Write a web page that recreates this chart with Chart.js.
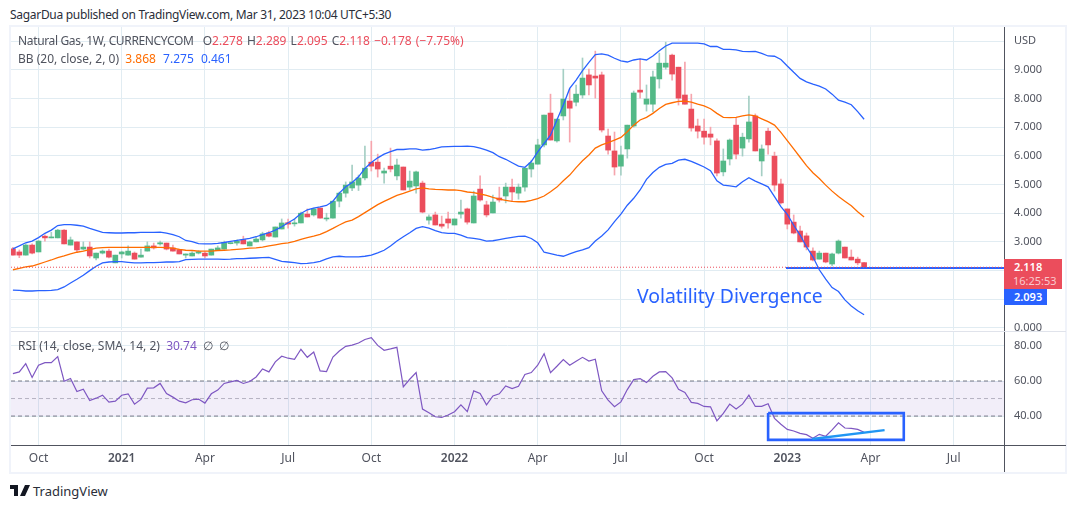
<!DOCTYPE html>
<html>
<head>
<meta charset="utf-8">
<title>Natural Gas</title>
<script src="https://cdn.jsdelivr.net/npm/chart.js@4"></script>
<style>
  body { margin: 0; background: #fff; font-family: "Noto Sans", sans-serif; color: #50535e; }
  #page { position: relative; width: 1076px; height: 508px; overflow: hidden; }
  #page > * { position: absolute; white-space: nowrap; }
  canvas { display: block; }
  .up { color: #eb4d5c; margin-right: 1px; }
  .legend { font-size: 12px; line-height: 18px; left: 18px; }
  .legend span.bb { margin-right: 4px; }
  .line { background: #50535e; }
  .tag { color: #fff; font-size: 11px; font-weight: 600; padding-left: 10px; box-sizing: border-box; }
</style>
</head>
<body>
<div id="page">
  <div style="left:10px;top:6px;font-size:12px;letter-spacing:-0.3px;color:#2a2e39">SagarDua published on TradingView.com, Mar 31, 2023 10:04 UTC+5:30</div>
  <div style="left:9px;top:25px;width:1054px;height:445px;border:2px solid #f0f3fa"></div>
  <canvas id="priceChart" width="1076" height="331" style="left:0;top:0"></canvas>
  <div style="left:11px;top:331px;width:1055px;height:1px;background:#e0e3eb"></div>
  <canvas id="rsiChart" width="1076" height="141" style="left:0;top:332px"></canvas>
  <div class="line" style="left:1004px;top:445px;width:1px;height:27px"></div>
  <div class="line" style="left:1004px;top:445px;width:62px;height:1px"></div>

  <div class="legend" style="top:32px"><span style="letter-spacing:-0.35px;margin-right:6px">Natural Gas, 1W, CURRENCYCOM</span> O<span class="up">2.278</span> H<span class="up">2.289</span> L<span class="up">2.095</span> C<span class="up">2.118</span> <span class="up">−0.178</span> <span class="up">(−7.75%)</span></div>
  <div class="legend" style="top:50px">BB (20, close, 2, 0)&nbsp; <span class="bb" style="color:#ff6d00">3.868</span> <span class="bb" style="color:#2962ff">7.275</span> <span class="bb" style="color:#2962ff">0.461</span></div>
  <div class="legend" style="top:337px">RSI (14, close, SMA, 14, 2)&nbsp; <span style="color:#7e57c2">30.74</span>&nbsp; ∅&nbsp; ∅</div>

  <div style="left:637px;top:283px;font-size:19.4px;line-height:26px;color:#2962ff">Volatility Divergence</div>

  <div class="tag" style="left:1004px;top:259px;width:58px;height:30px;background:#eb4d5c;line-height:14px;padding-top:1px">2.118<br><span style="color:#f9c9ce;font-weight:400;margin-left:-1px">16:25:53</span></div>
  <div class="tag" style="left:1004px;top:289px;width:43px;height:16px;background:#2962ff;line-height:16px">2.093</div>

  <svg style="left:10px;top:485px" width="20" height="12" viewBox="0 0 20 12">
    <path d="M0 0h8v11H4V4H0z M9.5 0a2 2 0 1 1 0.01 0z M15 0h5l-5 11h-5z" fill="#131722"/>
  </svg>
  <div style="left:33px;top:482px;font-size:13px;line-height:18px;color:#2a2e39">TradingView</div>
</div>

<script>
const opens = [2.76,2.65,2.54,2.89,2.65,3.20,3.14,3.14,3.41,2.89,
  3.00,2.75,2.82,2.44,2.61,2.68,2.27,2.58,2.54,2.61,
  2.47,2.68,2.86,2.93,2.96,2.79,2.73,2.54,2.51,2.61,
  2.61,2.54,2.72,2.75,2.94,2.96,3.08,2.86,3.00,3.07,
  3.31,3.17,3.45,3.67,3.63,3.66,3.97,3.94,4.18,3.80,
  3.83,4.42,4.70,4.88,4.98,5.23,5.78,5.78,5.40,5.64,
  5.30,5.61,4.91,4.95,5.05,3.76,3.94,3.62,3.80,3.59,
  3.97,4.15,3.66,4.84,4.29,4.01,4.53,4.60,4.91,4.70,
  4.91,5.54,5.71,6.38,7.49,6.52,7.39,7.91,7.87,8.12,
  8.82,8.78,8.82,6.69,6.17,5.64,6.24,7.04,8.29,7.80,
  7.80,8.68,9.09,9.51,9.09,8.12,7.63,7.04,6.86,6.76,
  6.52,5.44,5.89,7.07,6.27,6.59,7.39,5.82,6.86,5.99,
  5.02,4.15,3.69,3.38,3.21,2.68,2.40,2.61,2.23,2.61,2.82,2.47,2.40,2.278];
const highs = [2.81,2.72,2.93,2.93,3.05,3.25,3.34,3.44,3.43,3.17,
  3.00,3.00,3.00,2.61,2.72,2.75,2.54,2.68,2.86,2.65,
  2.75,3.00,2.96,3.03,2.96,2.89,2.75,2.58,2.65,2.70,
  2.65,2.75,2.86,3.03,2.96,3.07,3.20,3.03,3.17,3.34,
  3.38,3.52,3.80,3.80,3.80,4.04,4.15,4.18,4.18,4.00,
  4.42,4.74,5.09,5.68,5.33,6.34,6.51,6.06,5.57,6.27,
  5.89,5.61,5.47,5.47,5.12,3.94,4.04,3.90,4.04,3.80,
  4.46,4.18,4.77,5.30,4.42,4.63,4.91,5.05,5.19,5.02,
  5.57,5.85,6.58,7.42,8.15,7.28,9.02,8.33,8.47,9.41,
  9.02,9.65,8.92,6.93,6.83,6.34,7.07,8.26,9.37,8.47,
  8.95,9.58,9.96,9.55,9.09,9.27,8.15,7.28,7.28,7.00,
  6.59,6.24,6.59,7.32,6.79,8.08,7.46,6.38,6.97,6.13,
  5.19,4.15,3.94,3.55,3.31,2.79,2.68,2.61,2.61,3.07,2.82,2.72,2.47,2.289];
const lows = [2.54,2.45,2.54,2.58,2.65,3.03,3.14,3.14,2.93,2.89,
  2.65,2.72,2.44,2.37,2.58,2.44,2.27,2.44,2.54,2.40,
  2.47,2.68,2.75,2.89,2.72,2.68,2.58,2.44,2.51,2.58,
  2.44,2.54,2.72,2.75,2.93,2.89,2.93,2.86,3.00,3.03,
  3.17,3.17,3.45,3.48,3.55,3.66,3.87,3.90,3.83,3.73,
  3.83,4.22,4.56,4.79,4.79,5.16,5.47,5.26,5.05,5.44,
  5.16,4.81,4.81,4.70,4.01,3.62,3.59,3.48,3.48,3.59,
  3.83,3.62,3.66,4.42,3.87,4.01,4.39,4.36,4.42,4.49,
  4.77,5.26,5.71,6.31,6.55,6.48,7.25,6.48,7.74,8.01,
  8.12,8.01,6.83,6.06,5.33,5.33,5.92,7.00,8.01,7.56,
  7.53,8.36,9.02,8.64,7.77,7.80,6.86,6.62,6.41,6.38,
  5.30,5.30,5.68,5.89,5.99,6.48,6.17,5.30,6.06,4.77,
  4.32,3.45,3.28,3.00,2.72,2.34,2.40,2.27,2.16,2.58,2.44,2.37,2.20,2.095];
const closes = [2.54,2.54,2.89,2.61,3.03,3.14,3.16,3.41,2.93,3.07,
  2.72,2.82,2.51,2.61,2.68,2.47,2.54,2.65,2.68,2.40,
  2.54,2.86,2.79,2.97,2.75,2.68,2.58,2.58,2.61,2.66,
  2.51,2.75,2.79,2.98,2.96,3.03,2.93,3.00,3.10,3.28,
  3.20,3.52,3.66,3.62,3.66,4.00,3.87,4.15,3.83,3.83,
  4.42,4.70,4.98,5.09,5.23,5.57,5.64,5.54,5.47,5.54,
  5.68,4.81,5.12,5.44,4.04,3.87,3.59,3.55,3.66,3.80,
  4.04,3.69,4.60,4.46,3.94,4.39,4.46,4.91,4.74,4.91,
  5.57,5.75,6.38,7.42,6.55,7.28,7.98,7.66,8.15,8.71,
  8.47,8.71,6.90,6.20,5.61,6.03,7.07,8.19,8.22,7.98,
  8.75,9.23,9.23,8.85,8.01,7.80,6.97,6.86,6.65,6.65,
  5.40,5.82,6.55,6.06,6.65,7.18,6.17,6.24,6.38,4.98,
  4.36,3.62,3.31,3.00,2.82,2.37,2.61,2.30,2.58,3.03,2.44,2.37,2.27,2.118];

const bbUpper = [2.76,2.86,2.97,3.03,3.15,3.30,3.41,3.57,3.60,3.60,
  3.58,3.55,3.47,3.40,3.33,3.32,3.31,3.31,3.32,3.32,
  3.33,3.33,3.33,3.34,3.31,3.25,3.18,3.05,3.01,2.94,
  2.93,2.93,2.95,2.98,3.02,3.05,3.09,3.12,3.18,3.25,
  3.32,3.41,3.53,3.67,3.80,3.99,4.12,4.18,4.22,4.27,
  4.42,4.70,4.92,5.07,5.27,5.56,5.77,5.93,6.06,6.15,
  6.22,6.22,6.24,6.24,6.20,6.22,6.26,6.31,6.32,6.33,
  6.33,6.34,6.32,6.27,6.20,6.11,5.97,5.88,5.76,5.64,
  5.60,5.80,6.14,6.43,6.72,7.25,7.77,8.35,8.64,8.97,
  9.26,9.53,9.55,9.51,9.40,9.31,9.27,9.34,9.38,9.34,
  9.48,9.66,9.83,9.93,9.93,9.93,9.93,9.93,9.90,9.81,
  9.81,9.71,9.71,9.69,9.64,9.63,9.64,9.57,9.48,9.47,
  9.36,9.13,8.91,8.70,8.58,8.50,8.43,8.33,8.15,7.94,7.87,7.78,7.54,7.275];
const bbBasis = [2.03,2.08,2.13,2.16,2.23,2.30,2.37,2.45,2.51,2.58,
  2.64,2.68,2.73,2.78,2.80,2.81,2.81,2.81,2.81,2.81,
  2.81,2.81,2.81,2.81,2.80,2.78,2.74,2.71,2.70,2.68,
  2.68,2.68,2.70,2.71,2.72,2.74,2.76,2.78,2.79,2.82,
  2.86,2.90,2.94,2.97,3.02,3.09,3.15,3.20,3.26,3.36,
  3.47,3.59,3.70,3.76,3.88,4.02,4.16,4.30,4.41,4.52,
  4.62,4.69,4.77,4.85,4.88,4.85,4.83,4.82,4.81,4.81,
  4.79,4.74,4.72,4.67,4.62,4.55,4.49,4.45,4.41,4.40,
  4.40,4.45,4.51,4.60,4.75,4.91,5.13,5.33,5.59,5.83,
  6.03,6.27,6.38,6.46,6.55,6.64,6.84,7.07,7.25,7.34,
  7.48,7.65,7.79,7.85,7.90,7.91,7.87,7.80,7.74,7.64,
  7.48,7.34,7.33,7.34,7.39,7.43,7.39,7.29,7.19,7.07,
  6.82,6.53,6.24,5.95,5.66,5.41,5.21,4.98,4.77,4.58,4.42,4.26,4.05,3.868];
const bbLower = [1.32,1.31,1.29,1.29,1.30,1.30,1.31,1.34,1.43,1.57,
  1.70,1.84,2.00,2.15,2.27,2.30,2.31,2.31,2.29,2.27,
  2.27,2.28,2.28,2.29,2.30,2.30,2.31,2.38,2.39,2.40,
  2.40,2.40,2.40,2.39,2.40,2.42,2.42,2.43,2.44,2.45,
  2.46,2.39,2.32,2.30,2.28,2.24,2.25,2.28,2.32,2.41,
  2.48,2.50,2.48,2.48,2.48,2.50,2.54,2.62,2.71,2.86,
  3.03,3.18,3.32,3.47,3.53,3.48,3.39,3.32,3.30,3.30,
  3.24,3.15,3.12,3.09,3.03,3.04,3.08,3.12,3.16,3.19,
  3.20,3.12,2.97,2.64,2.59,2.54,2.50,2.58,2.66,2.72,
  2.80,3.03,3.21,3.42,3.71,3.97,4.28,4.52,4.81,5.18,
  5.42,5.60,5.70,5.74,5.85,5.88,5.81,5.71,5.61,5.48,
  5.13,4.98,4.95,4.92,5.10,5.24,5.12,5.02,4.92,4.58,
  4.23,3.96,3.58,3.24,2.83,2.48,2.03,1.70,1.41,1.27,0.98,0.77,0.60,0.461];

const rsiValues = [64.2,65.2,69.9,62.0,69.0,70.5,70.5,73.9,59.9,61.4,
  54.0,55.3,48.9,50.2,51.9,48.0,48.5,51.9,52.7,46.8,
  49.5,55.9,56.1,58.6,52.9,50.8,48.5,47.6,49.3,49.7,
  47.4,52.7,54.8,58.6,59.5,60.3,58.6,59.7,62.3,66.9,
  65.2,70.9,74.1,73.0,72.4,78.1,73.5,76.5,65.8,65.4,
  73.7,77.1,79.8,80.5,81.7,83.7,84.7,80.3,77.5,78.3,
  79.2,56.7,61.0,64.8,44.0,41.9,39.6,39.2,40.6,42.5,
  46.4,42.5,54.4,52.9,46.4,51.5,52.7,57.2,55.7,57.0,
  63.7,64.8,69.0,75.6,64.8,68.4,72.2,69.0,71.3,73.5,
  71.4,72.4,54.4,49.1,45.3,48.1,55.1,60.8,61.4,59.1,
  62.7,65.2,65.4,61.8,55.3,53.5,47.8,47.2,45.5,45.3,
  37.3,41.5,46.8,44.0,46.8,51.9,45.5,45.5,47.0,38.7,
  35.3,32.4,31.5,30.1,29.4,27.3,29.6,28.5,32.1,36.2,33.2,33.0,32.4,30.74];

// weeks are counted from the first candle, the axes work on that count
const timeTicks = [4, 17, 30, 43, 56, 69, 82, 95, 108, 121, 134, 147];
const timeLabels = ['Oct', '2021', 'Apr', 'Jul', 'Oct', '2022', 'Apr', 'Jul', 'Oct', '2023', 'Apr', 'Jul'];
const priceTicks = [0, 1, 2, 3, 4, 5, 6, 7, 8, 9, 10];
const priceLabels = ['0.000', '', '', '3.000', '4.000', '5.000', '6.000', '7.000', '8.000', '9.000', 'USD'];
const rsiTicks = [40, 60, 80];
const rsiLabels = ['40.00', '60.00', '80.00'];

const xMin = -0.3, xMax = 154.86;
const lastPrice = 2.118;
const supportLevel = 2.093, supportStart = 120.8;
const boxWeeks = [118, 139.2, 139.2, 118, 118];
const boxRsi = [41.7, 41.7, 26.4, 26.4, 41.7];
const trendWeeks = [124.9, 136.2];
const trendRsi = [26.9, 32.0];
const rsiHigh = 60, rsiMid = 50, rsiLow = 40;

const green = '#53b987', red = '#eb4d5c';
const greenWick = '#a5cfc4', redWick = '#f6a5ad';
const gridColor = '#e1ecf2', textColor = '#50535e';
const fontName = '"Noto Sans", sans-serif';

const isUp = closes.map((c, i) => c >= opens[i]);
const points = (xs, ys) => xs.map((x, i) => ({ x: x, y: ys[i] }));
const weeks = closes.map((c, i) => i);
const line = (xs, ys, color, width, extra) => Object.assign({
  type: 'line', data: points(xs, ys), borderColor: color, borderWidth: width,
  pointRadius: 0, tension: 0, order: 1
}, extra);

const xAxis = (showLabels, height) => ({
  type: 'linear', min: xMin, max: xMax, offset: false,
  afterBuildTicks: scale => { scale.ticks = timeTicks.map(v => ({ value: v })); },
  afterFit: scale => { scale.height = height; },
  grid: { color: gridColor, drawTicks: false, offset: false },
  border: { display: showLabels, color: textColor },
  ticks: {
    display: showLabels, autoSkip: false, maxRotation: 0, padding: 6, color: textColor,
    font: ctx => ({ family: fontName, size: 12, weight: /^20/.test(timeLabels[ctx.index]) ? '600' : '400' }),
    callback: (v, i) => timeLabels[i]
  }
});

// the tick labels must not push the plot area in from the pane edges
const yAxis = (tickValues, labels, min, max) => ({
  position: 'right', min: min, max: max,
  afterBuildTicks: scale => { scale.ticks = tickValues.map(v => ({ value: v })); },
  afterFit: scale => { scale.width = 72; scale.paddingTop = 0; scale.paddingBottom = 0; },
  grid: { color: gridColor, drawTicks: false },
  border: { color: textColor },
  ticks: {
    padding: 10, color: textColor, autoSkip: false,
    font: { family: fontName, size: 11 },
    callback: (v, i) => labels[i]
  }
});

const baseOptions = {
  responsive: false, animation: false, devicePixelRatio: 1,
  plugins: { legend: { display: false }, tooltip: { enabled: false } }
};

new Chart('priceChart', {
  data: {
    datasets: [
      {
        type: 'bar', data: points(weeks, opens.map((o, i) => [o, closes[i]])),
        backgroundColor: isUp.map(u => u ? green : red),
        barThickness: 5, minBarLength: 1, grouped: false, order: 3
      },
      {
        type: 'bar', data: points(weeks, lows.map((l, i) => [l, highs[i]])),
        backgroundColor: isUp.map(u => u ? greenWick : redWick),
        barThickness: 1, grouped: false, order: 4
      },
      line(weeks, bbUpper, '#2962ff', 1.3),
      line(weeks, bbBasis, '#ff6d00', 1.3),
      line(weeks, bbLower, '#2962ff', 1.3),
      line([supportStart, xMax], [supportLevel, supportLevel], '#2962ff', 2, { order: 2 }),
      line([xMin, xMax], [lastPrice, lastPrice], red, 1, { borderDash: [1, 2], order: 0 })
    ]
  },
  options: Object.assign({}, baseOptions, {
    layout: { autoPadding: false, padding: { left: 11, top: 27, right: 0, bottom: 0 } },
    scales: {
      x: xAxis(false, 1),
      y: yAxis(priceTicks, priceLabels, -0.07, 10.49)
    }
  })
});

new Chart('rsiChart', {
  type: 'line',
  data: {
    datasets: [
      line(weeks, rsiValues, '#7e57c2', 1.2, { order: 2 }),
      line([xMin, xMax], [rsiHigh, rsiHigh], '#787b86', 1, {
        borderDash: [4, 3], order: 3, fill: { target: { value: rsiLow }, above: 'rgba(126,87,194,0.1)' }
      }),
      line([xMin, xMax], [rsiMid, rsiMid], 'rgba(120,123,134,0.5)', 1, { borderDash: [4, 3], order: 3 }),
      line([xMin, xMax], [rsiLow, rsiLow], '#787b86', 1, { borderDash: [4, 3], order: 3 }),
      line(boxWeeks, boxRsi, '#2962ff', 2.6, { order: 1 }),
      line(trendWeeks, trendRsi, '#2196f3', 2.4, { order: 0 })
    ]
  },
  options: Object.assign({}, baseOptions, {
    layout: { autoPadding: false, padding: { left: 11, top: 0, right: 0, bottom: 0 } },
    scales: {
      x: xAxis(true, 28),
      y: yAxis(rsiTicks, rsiLabels, 23.5, 87.95)
    }
  })
});
</script>
</body>
</html>
